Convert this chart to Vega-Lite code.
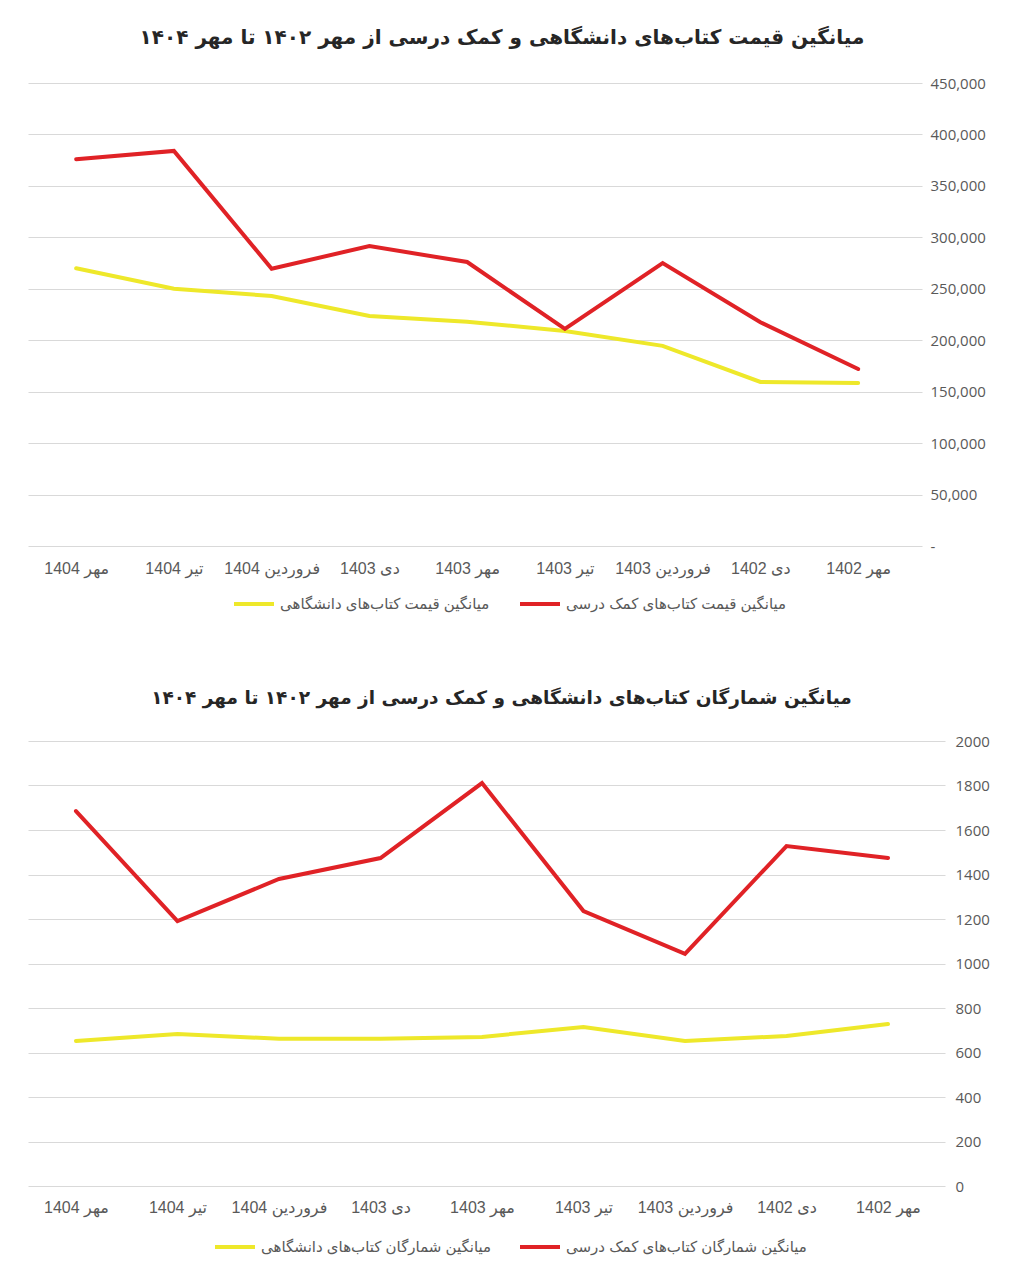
{
  "$schema": "https://vega.github.io/schema/vega-lite/v6.json",
  "background": "white",
  "padding": {"left": 28, "top": 28, "right": 5, "bottom": 5},
  "config": {
    "view": {"stroke": null},
    "font": "Liberation Sans, DejaVu Sans, sans-serif"
  },
  "datasets": {
    "price": [
      {"period": "مهر 1404", "series": "میانگین قیمت کتاب‌های دانشگاهی", "value": 270000},
      {"period": "تیر 1404", "series": "میانگین قیمت کتاب‌های دانشگاهی", "value": 250000},
      {"period": "فروردین 1404", "series": "میانگین قیمت کتاب‌های دانشگاهی", "value": 243000},
      {"period": "دی 1403", "series": "میانگین قیمت کتاب‌های دانشگاهی", "value": 223500},
      {"period": "مهر 1403", "series": "میانگین قیمت کتاب‌های دانشگاهی", "value": 218000},
      {"period": "تیر 1403", "series": "میانگین قیمت کتاب‌های دانشگاهی", "value": 209000},
      {"period": "فروردین 1403", "series": "میانگین قیمت کتاب‌های دانشگاهی", "value": 194500},
      {"period": "دی 1402", "series": "میانگین قیمت کتاب‌های دانشگاهی", "value": 159500},
      {"period": "مهر 1402", "series": "میانگین قیمت کتاب‌های دانشگاهی", "value": 158500},
      {"period": "مهر 1404", "series": "میانگین قیمت کتاب‌های کمک درسی", "value": 376000},
      {"period": "تیر 1404", "series": "میانگین قیمت کتاب‌های کمک درسی", "value": 384000},
      {"period": "فروردین 1404", "series": "میانگین قیمت کتاب‌های کمک درسی", "value": 269500},
      {"period": "دی 1403", "series": "میانگین قیمت کتاب‌های کمک درسی", "value": 291500},
      {"period": "مهر 1403", "series": "میانگین قیمت کتاب‌های کمک درسی", "value": 276000},
      {"period": "تیر 1403", "series": "میانگین قیمت کتاب‌های کمک درسی", "value": 211000},
      {"period": "فروردین 1403", "series": "میانگین قیمت کتاب‌های کمک درسی", "value": 275000},
      {"period": "دی 1402", "series": "میانگین قیمت کتاب‌های کمک درسی", "value": 217500},
      {"period": "مهر 1402", "series": "میانگین قیمت کتاب‌های کمک درسی", "value": 172000}
    ],
    "count": [
      {"period": "مهر 1404", "series": "میانگین شمارگان کتاب‌های دانشگاهی", "value": 652},
      {"period": "تیر 1404", "series": "میانگین شمارگان کتاب‌های دانشگاهی", "value": 683},
      {"period": "فروردین 1404", "series": "میانگین شمارگان کتاب‌های دانشگاهی", "value": 662},
      {"period": "دی 1403", "series": "میانگین شمارگان کتاب‌های دانشگاهی", "value": 662},
      {"period": "مهر 1403", "series": "میانگین شمارگان کتاب‌های دانشگاهی", "value": 670},
      {"period": "تیر 1403", "series": "میانگین شمارگان کتاب‌های دانشگاهی", "value": 715},
      {"period": "فروردین 1403", "series": "میانگین شمارگان کتاب‌های دانشگاهی", "value": 652},
      {"period": "دی 1402", "series": "میانگین شمارگان کتاب‌های دانشگاهی", "value": 674},
      {"period": "مهر 1402", "series": "میانگین شمارگان کتاب‌های دانشگاهی", "value": 728},
      {"period": "مهر 1404", "series": "میانگین شمارگان کتاب‌های کمک درسی", "value": 1685},
      {"period": "تیر 1404", "series": "میانگین شمارگان کتاب‌های کمک درسی", "value": 1191},
      {"period": "فروردین 1404", "series": "میانگین شمارگان کتاب‌های کمک درسی", "value": 1380},
      {"period": "دی 1403", "series": "میانگین شمارگان کتاب‌های کمک درسی", "value": 1474},
      {"period": "مهر 1403", "series": "میانگین شمارگان کتاب‌های کمک درسی", "value": 1811},
      {"period": "تیر 1403", "series": "میانگین شمارگان کتاب‌های کمک درسی", "value": 1236},
      {"period": "فروردین 1403", "series": "میانگین شمارگان کتاب‌های کمک درسی", "value": 1043},
      {"period": "دی 1402", "series": "میانگین شمارگان کتاب‌های کمک درسی", "value": 1528},
      {"period": "مهر 1402", "series": "میانگین شمارگان کتاب‌های کمک درسی", "value": 1474}
    ]
  },
  "resolve": {"scale": {"color": "independent", "x": "independent", "y": "independent"}, "legend": {"color": "independent"}},
  "spacing": 76,
  "vconcat": [
    {
      "data": {"name": "price"},
      "title": {"text": "میانگین قیمت کتاب‌های دانشگاهی و کمک درسی از مهر ۱۴۰۲ تا مهر ۱۴۰۴", "font": "DejaVu Sans", "fontSize": 20, "fontWeight": "bold", "color": "#262626", "offset": 28, "dx": 27, "anchor": "middle", "frame": "group"},
      "width": 894,
      "height": 463,
      "mark": {"type": "line", "strokeWidth": 4, "strokeCap": "round", "strokeJoin": "miter"},
      "encoding": {
        "x": {
          "field": "period", "type": "ordinal",
          "sort": ["مهر 1404", "تیر 1404", "فروردین 1404", "دی 1403", "مهر 1403", "تیر 1403", "فروردین 1403", "دی 1402", "مهر 1402"],
          "scale": {"type": "point", "padding": 0.573, "align": 0.43},
          "axis": {"title": null, "labelAngle": 0, "domain": false, "ticks": false, "grid": false, "labelFontSize": 16, "labelColor": "#595959", "labelPadding": 14}
        },
        "y": {
          "field": "value", "type": "quantitative",
          "scale": {"domain": [0, 450000]},
          "axis": {"orient": "right", "title": null, "values": [0, 50000, 100000, 150000, 200000, 250000, 300000, 350000, 400000, 450000], "labelExpr": "datum.value === 0 ? '-' : format(datum.value, ',')", "domain": false, "ticks": false, "gridColor": "#d9d9d9", "gridWidth": 1, "labelPadding": 8, "labelAlign": "left", "labelFontSize": 15, "labelColor": "#595959", "labelFont": "Open Sans"}
        },
        "color": {
          "field": "series", "type": "nominal",
          "scale": {"domain": ["میانگین قیمت کتاب‌های دانشگاهی", "میانگین قیمت کتاب‌های کمک درسی"], "range": ["#eee82a", "#e02226"]},
          "legend": {"orient": "none", "legendX": 204, "legendY": 499, "direction": "horizontal", "title": null, "symbolType": "stroke", "symbolStrokeWidth": 4, "symbolSize": 1600, "labelFontSize": 15, "labelColor": "#595959", "labelLimit": 500, "columnPadding": 22}
        }
      }
    },
    {
      "data": {"name": "count"},
      "title": {"text": "میانگین شمارگان کتاب‌های دانشگاهی و کمک درسی از مهر ۱۴۰۲ تا مهر ۱۴۰۴", "font": "DejaVu Sans", "fontSize": 18.5, "fontWeight": "bold", "color": "#262626", "offset": 27, "dx": 15, "anchor": "middle", "frame": "group"},
      "width": 917,
      "height": 445,
      "mark": {"type": "line", "strokeWidth": 4, "strokeCap": "round", "strokeJoin": "miter"},
      "encoding": {
        "x": {
          "field": "period", "type": "ordinal",
          "sort": ["مهر 1404", "تیر 1404", "فروردین 1404", "دی 1403", "مهر 1403", "تیر 1403", "فروردین 1403", "دی 1402", "مهر 1402"],
          "scale": {"type": "point", "padding": 0.517, "align": 0.457},
          "axis": {"title": null, "labelAngle": 0, "domain": false, "ticks": false, "grid": false, "labelFontSize": 16, "labelColor": "#595959", "labelPadding": 13}
        },
        "y": {
          "field": "value", "type": "quantitative",
          "scale": {"domain": [0, 2000]},
          "axis": {"orient": "right", "title": null, "values": [0, 200, 400, 600, 800, 1000, 1200, 1400, 1600, 1800, 2000], "format": "d", "domain": false, "ticks": false, "gridColor": "#d9d9d9", "gridWidth": 1, "labelPadding": 10, "labelAlign": "left", "labelFontSize": 15, "labelColor": "#595959", "labelFont": "Open Sans"}
        },
        "color": {
          "field": "series", "type": "nominal",
          "scale": {"domain": ["میانگین شمارگان کتاب‌های دانشگاهی", "میانگین شمارگان کتاب‌های کمک درسی"], "range": ["#eee82a", "#e02226"]},
          "legend": {"orient": "none", "legendX": 185, "legendY": 484, "direction": "horizontal", "title": null, "symbolType": "stroke", "symbolStrokeWidth": 4, "symbolSize": 1600, "labelFontSize": 15, "labelColor": "#595959", "labelLimit": 500, "columnPadding": 20}
        }
      }
    }
  ]
}
